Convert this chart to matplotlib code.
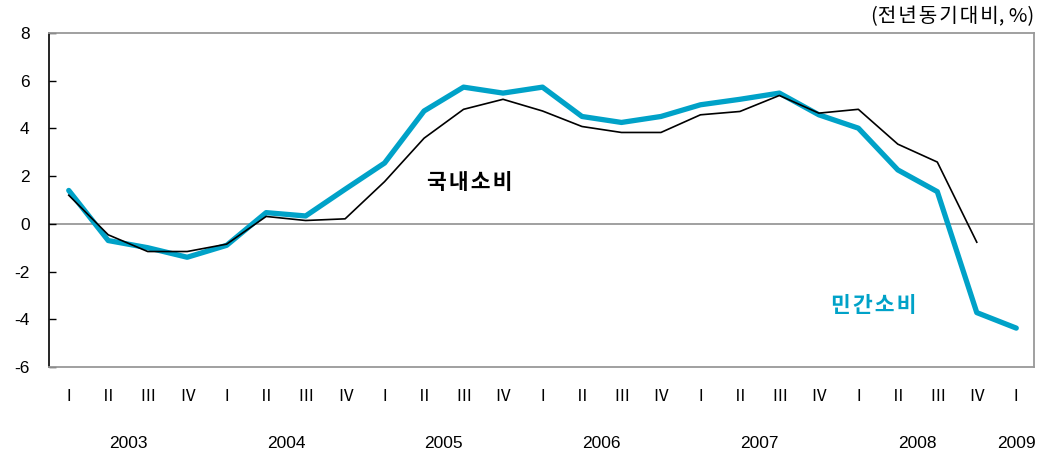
import matplotlib
matplotlib.use('Agg')
import matplotlib.pyplot as plt
import matplotlib.transforms as mtransforms

plt.rcParams['font.family'] = ['Liberation Sans', 'Noto Sans CJK KR', 'DejaVu Sans']
plt.rcParams['axes.unicode_minus'] = False

# quarterly data, 2003 Q1 .. 2009 Q1 (전년동기대비, %)
quarters = ['Ⅰ', 'Ⅱ', 'Ⅲ', 'Ⅳ'] * 6 + ['Ⅰ']
years = ['2003', '2004', '2005', '2006', '2007', '2008', '2009']
year_pos = [1.5, 5.5, 9.5, 13.5, 17.5, 21.5, 24]

private_cons = [1.4, -0.7, -1.0, -1.4, -0.9, 0.47, 0.33, 1.45, 2.55, 4.73, 5.73, 5.48,
                5.73, 4.5, 4.25, 4.5, 4.99, 5.22, 5.48, 4.57, 4.01, 2.26, 1.35, -3.72, -4.37]
domestic_cons = [1.2, -0.46, -1.16, -1.16, -0.85, 0.31, 0.14, 0.21, 1.77, 3.59, 4.8, 5.22,
                 4.73, 4.08, 3.83, 3.83, 4.57, 4.71, 5.38, 4.64, 4.8, 3.34, 2.59, -0.77]

CYAN = '#00A2C8'
GRAY = '#999999'
KFONT = ['Noto Sans CJK KR', 'DejaVu Sans']
SP = '\u200a'  # hair space, for the letter-spaced korean text


def spaced(s):
    return SP.join(s)


fig = plt.figure(figsize=(10.45, 4.58), dpi=100)
ax = fig.add_axes([0.0469, 0.1987, 0.9426, 0.7293])

x_priv = list(range(len(private_cons)))
x_dom = list(range(len(domestic_cons)))

ax.axhline(0, color=GRAY, lw=1.3, zorder=1)
ax.plot(x_priv, private_cons, color=CYAN, lw=3.8, solid_capstyle='round', zorder=2)
ax.plot(x_dom, domestic_cons, color='black', lw=1.2, zorder=3)

ax.set_xlim(-0.5, 24.45)
ax.set_ylim(-6, 8)
ax.set_yticks(range(-6, 9, 2))
ax.tick_params(axis='y', direction='in', length=5, width=1, labelsize=12.5, pad=14)
ax.set_xticks(x_priv)
ax.set_xticklabels(quarters, fontsize=12)
ax.tick_params(axis='x', length=0, pad=16)

for side in ['top', 'right', 'bottom']:
    ax.spines[side].set_color(GRAY)
    ax.spines[side].set_linewidth(1.3)
ax.spines['left'].set_color('black')
ax.spines['left'].set_linewidth(1.2)

trans = mtransforms.blended_transform_factory(ax.transData, fig.transFigure)
for yr, pos in zip(years, year_pos):
    ax.text(pos, 1 - 443 / 458, yr, transform=trans, ha='center', va='center', fontsize=12.5)

ax.text(10.15, 1.72, spaced('국내소비'), fontsize=15.5, fontweight='bold', color='black',
        ha='center', va='center', family=KFONT)
ax.text(20.4, -3.44, spaced('민간소비'), fontsize=15.5, fontweight='bold', color=CYAN,
        ha='center', va='center', family=KFONT)

fig.text(0.99, 1 - 17 / 458, '(' + spaced('전년동기대비') + ', %)', fontsize=14.5,
         ha='right', va='center', family=KFONT)

fig.savefig('out.png', dpi=100)
